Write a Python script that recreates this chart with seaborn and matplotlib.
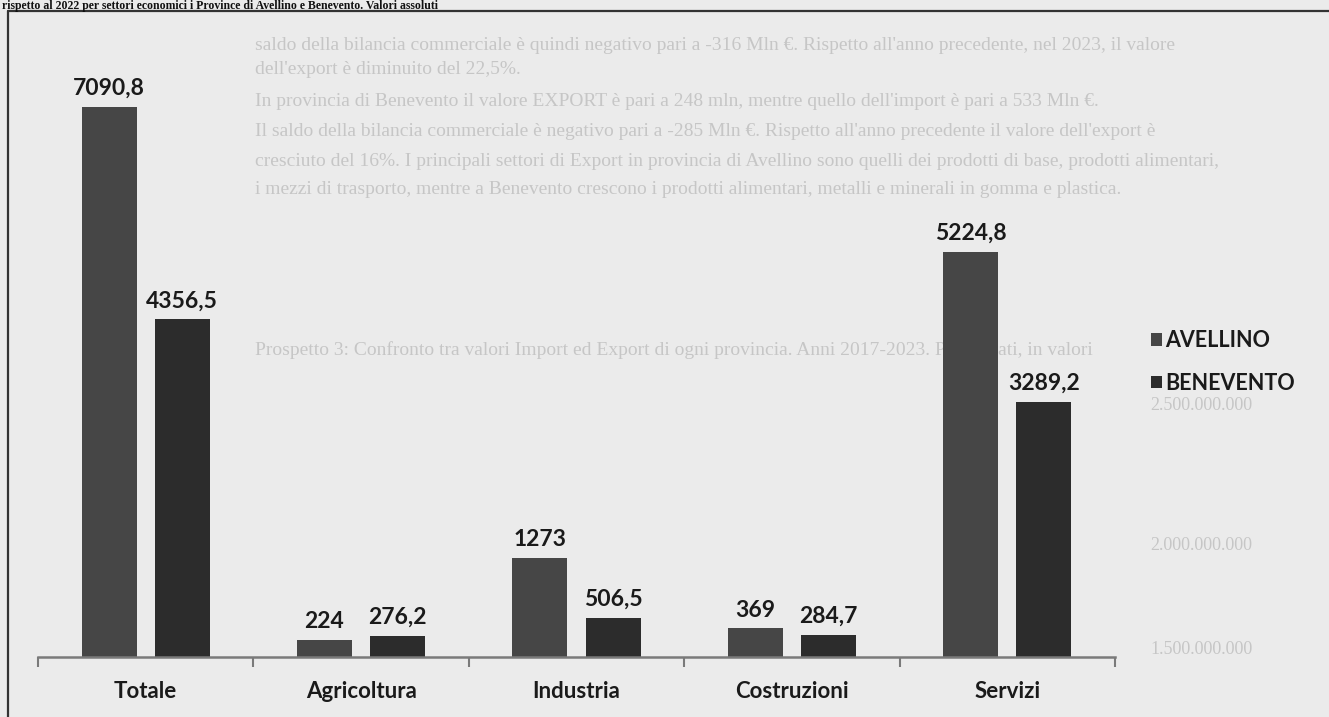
import matplotlib
matplotlib.use("Agg")
import matplotlib.pyplot as plt
from matplotlib.lines import Line2D
import seaborn as sns
import pandas as pd

# Valori per settore economico (Mln €)
settori = ["Totale", "Agricoltura", "Industria", "Costruzioni", "Servizi"]
province = ["AVELLINO", "BENEVENTO"]
avellino = [7090.8, 224, 1273, 369, 5224.8]
benevento = [4356.5, 276.2, 506.5, 284.7, 3289.2]

colori = ["#464646", "#2c2c2c"]

df = pd.DataFrame({
    "settore": settori * 2,
    "provincia": [province[0]] * len(settori) + [province[1]] * len(settori),
    "valore": avellino + benevento,
})

sns.set_theme(style="white")
plt.rcParams["font.family"] = ["Lato", "DejaVu Sans"]

W, H = 1329, 717
fig = plt.figure(figsize=(W / 100, H / 100), dpi=100, facecolor="#ebebeb")

# testo della pagina che traspare sul fondo
sfondo = "#c6c6c6"
righe = [
    (45, "saldo della bilancia commerciale è quindi negativo pari a -316 Mln €. Rispetto all'anno precedente, nel 2023, il valore"),
    (70, "dell'export è diminuito del 22,5%."),
    (101, "In provincia di Benevento il valore EXPORT è pari a 248 mln, mentre quello dell'import è pari a 533 Mln €."),
    (131, "Il saldo della bilancia commerciale è negativo pari a -285 Mln €. Rispetto all'anno precedente il valore dell'export è"),
    (161, "cresciuto del 16%. I principali settori di Export in provincia di Avellino sono quelli dei prodotti di base, prodotti alimentari,"),
    (190, "i mezzi di trasporto, mentre a Benevento crescono i prodotti alimentari, metalli e minerali in gomma e plastica."),
    (350, "Prospetto 3: Confronto tra valori Import ed Export di ogni provincia. Anni 2017-2023. Più elevati, in valori"),
]
for y, t in righe:
    fig.text(255 / W, 1 - y / H, t, ha="left", va="center", fontsize=14,
             color=sfondo, family="Liberation Serif", zorder=-2)
for y, t in [(405, "2.500.000.000"), (545, "2.000.000.000"), (650, "1.500.000.000")]:
    fig.text(1150 / W, 1 - y / H, t, ha="left", va="center", fontsize=13,
             color=sfondo, family="Liberation Serif", zorder=-2)

# intestazione in alto e cornice
fig.text(2 / W, 1 - 0.5 / H,
         "rispetto al 2022 per settori economici i Province di Avellino e Benevento. Valori assoluti",
         ha="left", va="top", fontsize=8.5, weight="bold", color="#111111",
         family="Liberation Serif")
fig.add_artist(Line2D([8 / W, 1], [1 - 11 / H, 1 - 11 / H], transform=fig.transFigure,
                      color="#333333", lw=1.6))
fig.add_artist(Line2D([8 / W, 8 / W], [0, 1 - 11 / H], transform=fig.transFigure,
                      color="#333333", lw=1.6))

ax = fig.add_axes([38 / W, 1 - 657 / H, (1115 - 38) / W, (657 - 20) / H])
ax.set_facecolor("none")
sns.barplot(data=df, x="settore", y="valore", hue="provincia",
            order=settori, hue_order=province, palette=colori, saturation=1,
            width=0.68, gap=0.25, linewidth=0, ax=ax, zorder=2)

ax.set_xlim(-0.5, len(settori) - 0.5)
ax.set_ylim(0, 8212)
ax.set_xlabel("")
ax.set_ylabel("")
ax.set_yticks([])
for s in ["top", "right", "left"]:
    ax.spines[s].set_visible(False)
ax.spines["bottom"].set_color("#7a7a7a")
ax.spines["bottom"].set_linewidth(1.8)

ax.set_xticks(range(len(settori)))
ax.set_xticklabels(settori, fontsize=16, fontweight="bold", color="#1a1a1a")
ax.set_xticks([i - 0.5 for i in range(len(settori) + 1)], minor=True)
ax.tick_params(axis="x", which="major", length=0, pad=17)
ax.tick_params(axis="x", which="minor", length=7, width=1.5, color="#7a7a7a",
               direction="out", bottom=True)

# etichette dei valori sopra le barre
for cont in ax.containers:
    for bar in cont:
        v = bar.get_height()
        testo = f"{v:.1f}".replace(".", ",")
        if testo.endswith(",0"):
            testo = testo[:-2]
        ax.annotate(testo, (bar.get_x() + bar.get_width() / 2, v),
                    xytext=(0, 8.5), textcoords="offset points",
                    ha="center", va="baseline", fontsize=16.5, fontweight="bold",
                    color="#1a1a1a")

handles, labels = ax.get_legend_handles_labels()
ax.legend(handles, labels, loc="center left",
          bbox_to_anchor=(1132 / W, 1 - 362 / H), bbox_transform=fig.transFigure,
          frameon=False, handlelength=0.5, handleheight=0.5, handletextpad=0.15,
          labelspacing=1.0, prop={"weight": "bold", "size": 15.5},
          labelcolor="#1a1a1a")

fig.savefig("out.png", dpi=100, facecolor=fig.get_facecolor())
